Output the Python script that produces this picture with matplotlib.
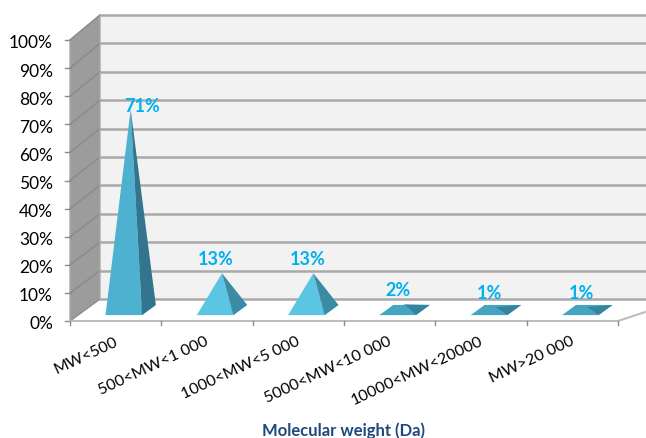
import matplotlib
matplotlib.use("Agg")
import matplotlib.pyplot as plt
from matplotlib.patches import Polygon

plt.rcParams['font.family'] = ['Lato', 'DejaVu Sans']

categories = ['MW<500', '500<MW<1 000', '1000<MW<5 000', '5000<MW<10 000',
              '10000<MW<20000', 'MW>20 000']
values = [71, 13, 13, 2, 1, 1]
y_ticks = [0, 10, 20, 30, 40, 50, 60, 70, 80, 90, 100]
x_label = 'Molecular weight (Da)'

# oblique projection of the excel style 3d chart, result in image pixels
x0, y0 = 70, 322
cat_w = 91.33
depth_x, depth_y = 30, 22


def proj(x, v, d=0.0):
    return (x0 + x * cat_w + depth_x * d,
            y0 - depth_y * d - v * (2.81 + 0.03 * d))


fig = plt.figure(figsize=(6.46, 4.39), dpi=100)
ax = fig.add_axes([0, 0, 1, 1])
ax.set_xlim(0, 646)
ax.set_ylim(439, 0)
ax.axis('off')

n = len(categories)
xr = n + 0.4  # back wall runs off the right edge of the picture

# walls and floor
ax.add_patch(Polygon([proj(0, 0, 1), proj(xr, 0, 1), proj(xr, 100, 1), proj(0, 100, 1)],
                     fc='#f2f2f2', ec='none', zorder=1))
ax.add_patch(Polygon([proj(0, 0, 0), proj(0, 0, 1), proj(0, 100, 1), proj(0, 100, 0)],
                     fc='#9c9c9c', ec='#a8a8a8', lw=1, zorder=1))
ax.add_patch(Polygon([proj(0, 0, 0), proj(n, 0, 0), proj(n, 0, 1), proj(xr, 0, 1), proj(0, 0, 1)],
                     fc='white', ec='none', zorder=2))

for t in y_ticks:
    xs, ys = zip(proj(0, t, 0), proj(0, t, 1))
    ax.plot(xs, ys, color='#8a8a8a', lw=1, zorder=3)
    xs, ys = zip(proj(0, t, 1), proj(xr, t, 1))
    ax.plot(xs, ys, color='#a9a9a9', lw=1.8, zorder=3)
    px, py = proj(0, t, 0)
    ax.plot([px - 5, px], [py, py], color='#8c8c8c', lw=1, zorder=3)
    ax.text(px - 17, py + 2.5, f'{t}%', ha='right', va='center', fontsize=12.5, color='black')

# floor edges
xs, ys = zip(proj(0, 0, 0), proj(n, 0, 0), proj(xr, 0, 1))
ax.plot(xs, ys, color='#bdbdbd', lw=1.5, zorder=3)
for i in range(n + 1):
    px, py = proj(i, 0, 0)
    ax.plot([px, px], [py, py + 4], color='#8c8c8c', lw=1, zorder=3)

# pyramids
label_dx = [26, 9, 9, 8, 9, 9]
label_y = [107, 260, 260, 291, 294, 294]
for i, v in enumerate(values):
    half = 0.2
    fl = proj(i + 0.5 - half, 0, 0.27)
    fr = proj(i + 0.5 + half, 0, 0.27)
    br = proj(i + 0.5 + half, 0, 0.73)
    bl = proj(i + 0.5 - half, 0, 0.73)
    apex = proj(i + 0.5, v, 0.5)
    if v > 50:
        left_c, right_c = '#4fb1d0', '#33758f'
    elif v > 5:
        left_c, right_c = '#5bc5e3', '#3b8ba5'
    else:
        left_c, right_c = '#45a5c0', '#35839c'
    ax.add_patch(Polygon([fl, fr, br, bl], fc=left_c, ec='none', zorder=4))
    ax.add_patch(Polygon([fl, fr, apex], fc=left_c, ec='none', zorder=4))
    ax.add_patch(Polygon([fr, br, apex], fc=right_c, ec='none', zorder=4))
    ax.text(proj(i + 0.5, 0, 0)[0] + label_dx[i], label_y[i], f'{v}%', ha='center',
            va='center', fontsize=13, fontweight='bold', color='#00b0f0', zorder=5)

# category labels
for i, c in enumerate(categories):
    px, py = proj(i + 0.5, 0, 0)
    ax.text(px + 1, py + 19, c, rotation=25, rotation_mode='anchor', ha='right',
            va='center', fontsize=11.5, color='black')

ax.text(344, 431, x_label, ha='center', va='center', fontsize=12,
        fontweight='bold', color='#1f497d')

fig.savefig('out.png', dpi=100)
